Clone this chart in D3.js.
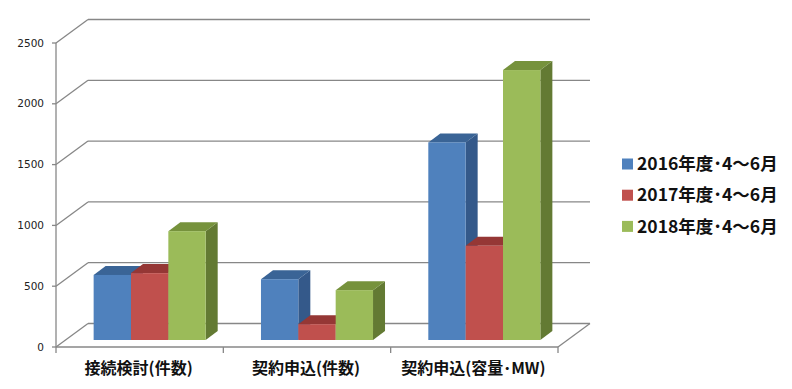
<!DOCTYPE html>
<html>
<head>
<meta charset="utf-8">
<script src="https://cdn.jsdelivr.net/npm/d3@7"></script>
<style>
  body { margin: 0; background: #fff; }
  svg { display: block; }
</style>
</head>
<body>
<div id="chart"></div>
<script>
// chart data
var categories = ["接続検討(件数)", "契約申込(件数)", "契約申込(容量･MW)"];
var series = ["2016年度･4～6月", "2017年度･4～6月", "2018年度･4～6月"];
var v2016 = [535, 500, 1625];
var v2017 = [550, 130, 775];
var v2018 = [895, 410, 2220];
var yTicks = [0, 500, 1000, 1500, 2000, 2500];

var values = [v2016, v2017, v2018];

// colors: front, top, side
var faceColors = [
    ["#4f81bd", "#3a6496", "#34598a"],
    ["#c0504d", "#953735", "#8a3230"],
    ["#9bbb59", "#76923c", "#637a33"]
];
var gridColor = "#878787";

const width = 792,
    height = 389,
    wallDx = 32, wallDy = -23.5,   // back wall offset
    barDx = 10, barDy = -7,        // bar front plane offset
    depthDx = 12, depthDy = -9;    // bar depth

var svg = d3.select("#chart").append("svg")
    .attr("width", width)
    .attr("height", height);

// scales (front plane)
var x = d3.scaleBand()
    .domain(categories)
    .range([56, 558])
    .padding(0);
var xs = d3.scaleBand()
    .domain(series)
    .range([0, x.bandwidth()])
    .paddingInner(0)
    .paddingOuter(0.74);
var y = d3.scaleLinear()
    .domain([0, 2500])
    .range([347, 43]);

var x0 = x.range()[0], x1 = x.range()[1];

// back wall gridlines + left wall diagonals
var grid = svg.append("g").attr("class", "grid")
    .attr("stroke", gridColor)
    .attr("stroke-width", 1.3)
    .attr("fill", "none");

yTicks.forEach(function(t) {
    grid.append("line")
        .attr("x1", x0 + wallDx).attr("y1", y(t) + wallDy)
        .attr("x2", x1 + wallDx).attr("y2", y(t) + wallDy);
    grid.append("line")
        .attr("x1", x0).attr("y1", y(t))
        .attr("x2", x0 + wallDx).attr("y2", y(t) + wallDy);
});

// floor front edge and right edge
grid.append("line")
    .attr("x1", x0).attr("y1", y(0))
    .attr("x2", x1).attr("y2", y(0));
grid.append("line")
    .attr("x1", x1).attr("y1", y(0))
    .attr("x2", x1 + wallDx).attr("y2", y(0) + wallDy);

// vertical axis line
grid.append("line")
    .attr("x1", x0).attr("y1", y(2500))
    .attr("x2", x0).attr("y2", y(0));

// y ticks
yTicks.forEach(function(t) {
    grid.append("line")
        .attr("x1", x0 - 4).attr("y1", y(t))
        .attr("x2", x0).attr("y2", y(t));
});

// category tick marks
var catTicks = categories.map(function(c) { return x(c); }).concat([x1]);
catTicks.forEach(function(cx) {
    grid.append("line")
        .attr("x1", cx).attr("y1", y(0))
        .attr("x2", cx).attr("y2", y(0) + 6);
});

// y tick labels
svg.append("g")
    .selectAll("text")
    .data(yTicks)
    .enter().append("text")
    .attr("x", 44)
    .attr("y", function(d) { return y(d); })
    .attr("dy", "0.35em")
    .attr("text-anchor", "end")
    .style("font-family", "'DejaVu Sans', Verdana, sans-serif")
    .style("font-size", "10.5px")
    .style("fill", "#222")
    .text(function(d) { return d; });

// category labels
svg.append("g")
    .selectAll("text")
    .data(categories)
    .enter().append("text")
    .attr("x", function(d) { return x(d) + x.bandwidth() / 2 - 1; })
    .attr("y", 368)
    .attr("dy", "0.35em")
    .attr("text-anchor", "middle")
    .style("font-family", "'Noto Sans CJK JP', sans-serif")
    .style("font-size", "16px")
    .style("font-weight", "bold")
    .style("fill", "#111")
    .text(function(d) { return d; });

// bars (3d boxes)
var bars = svg.append("g").attr("class", "bars");
categories.forEach(function(c, ci) {
    series.forEach(function(s, si) {
        var v = values[si][ci];
        var bx = x(c) + xs(s) + barDx,
            bw = xs.bandwidth(),
            by = y(v) + barDy,
            bb = y(0) + barDy;
        var col = faceColors[si];
        // side face
        bars.append("path")
            .attr("d", d3.line()([[bx + bw, by], [bx + bw + depthDx, by + depthDy],
                [bx + bw + depthDx, bb + depthDy], [bx + bw, bb]]) + "Z")
            .attr("fill", col[2]);
        // top face
        bars.append("path")
            .attr("d", d3.line()([[bx, by], [bx + depthDx, by + depthDy],
                [bx + bw + depthDx, by + depthDy], [bx + bw, by]]) + "Z")
            .attr("fill", col[1]);
        // front face
        bars.append("rect")
            .attr("x", bx)
            .attr("y", by)
            .attr("width", bw)
            .attr("height", bb - by)
            .attr("fill", col[0]);
    });
});

// legend
var legend = svg.append("g")
    .selectAll("g")
    .data(series)
    .enter().append("g")
    .attr("transform", function(d, i) { return "translate(622," + (164 + i * 31.2) + ")"; });
legend.append("rect")
    .attr("x", 0).attr("y", -5.5)
    .attr("width", 11).attr("height", 11)
    .attr("fill", function(d, i) { return faceColors[i][0]; });
legend.append("text")
    .attr("x", 15)
    .attr("dy", "0.35em")
    .style("font-family", "'Noto Sans CJK JP', sans-serif")
    .style("font-size", "17.5px")
    .style("font-weight", "bold")
    .style("fill", "#111")
    .text(function(d) { return d; });
</script>
</body>
</html>
